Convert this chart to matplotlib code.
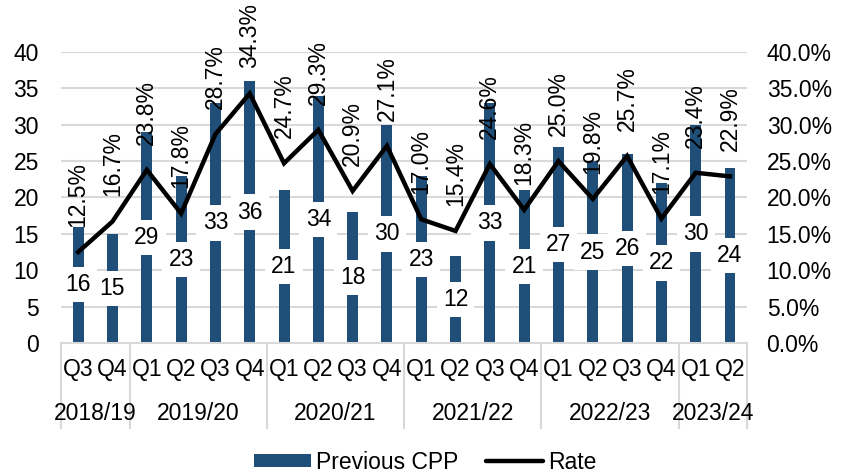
import matplotlib
matplotlib.use("Agg")
import matplotlib.pyplot as plt
from matplotlib.lines import Line2D
from matplotlib.patches import Patch
import numpy as np

plt.rcParams['font.family'] = ['Liberation Sans', 'DejaVu Sans']

quarters = ["Q3", "Q4",
            "Q1", "Q2", "Q3", "Q4",
            "Q1", "Q2", "Q3", "Q4",
            "Q1", "Q2", "Q3", "Q4",
            "Q1", "Q2", "Q3", "Q4",
            "Q1", "Q2"]
years = ["2018/19", "2019/20", "2020/21", "2021/22", "2022/23", "2023/24"]
year_sizes = [2, 4, 4, 4, 4, 2]
previous_cpp = [16, 15, 29, 23, 33, 36, 21, 34, 18, 30,
                23, 12, 33, 21, 27, 25, 26, 22, 30, 24]
rate = [12.5, 16.7, 23.8, 17.8, 28.7, 34.3, 24.7, 29.3, 20.9, 27.1,
        17.0, 15.4, 24.6, 18.3, 25.0, 19.8, 25.7, 17.1, 23.4, 22.9]

bar_color = "#1F4E79"
grid_color = "#D9D9D9"
fs = 16.5

fig = plt.figure(figsize=(8.5, 4.75), dpi=100)
ax = fig.add_axes([0.0718, 0.278, 0.879 - 0.0718, 0.8905 - 0.278])
ax2 = ax.twinx()

x = np.arange(len(quarters))
ax.bar(x, previous_cpp, width=0.32, color=bar_color, zorder=2)
ax.set_xlim(-0.5, len(quarters) - 0.5)
ax.set_ylim(0, 40)
ax.set_yticks(np.arange(0, 41, 5))
ax.yaxis.grid(True, color=grid_color, linewidth=1.5, zorder=0)
ax.set_axisbelow(True)
ax.tick_params(axis='y', length=0, labelsize=fs, pad=16)
ax.tick_params(axis='x', length=0, labelbottom=False)
for s in ["top", "left", "right"]:
    ax.spines[s].set_visible(False)
ax.spines["bottom"].set_color(grid_color)
ax.spines["bottom"].set_linewidth(1.5)

# bar value labels in white boxes at the middle of each bar
for xi, v in zip(x, previous_cpp):
    ax.text(xi, v / 2, f"{v}", ha="center", va="center", fontsize=fs,
            zorder=3,
            bbox=dict(facecolor="white", edgecolor="none", pad=4.5))

# rate line on the secondary axis
ax2.plot(x, np.array(rate) / 100, color="black", linewidth=3.2, zorder=4,
         solid_joinstyle="miter")
ax2.set_ylim(0, 0.4)
ax2.set_yticks(np.arange(0, 0.41, 0.05))
ax2.set_yticklabels([f"{t * 100:.1f}%" for t in np.arange(0, 0.41, 0.05)])
ax2.tick_params(axis='y', length=0, labelsize=fs, pad=14)
for s in ["top", "left", "right", "bottom"]:
    ax2.spines[s].set_visible(False)

for xi, r in zip(x, rate):
    ax2.annotate(f"{r:.1f}%", (xi, r / 100), xytext=(0, 18),
                 textcoords="offset points", rotation=90,
                 ha="center", va="bottom", fontsize=fs, zorder=5,
                 annotation_clip=False)

# two-level category axis
trans = ax.get_xaxis_transform()
for xi, q in zip(x, quarters):
    ax.text(xi, -0.09, q, transform=trans, ha="center", va="center",
            fontsize=fs, clip_on=False)

bounds = np.concatenate([[0], np.cumsum(year_sizes)]) - 0.5
for b in bounds:
    ax.plot([b, b], [0, -0.292], transform=trans, color=grid_color,
            linewidth=1.5, clip_on=False)
for i, yname in enumerate(years):
    c = (bounds[i] + bounds[i + 1]) / 2
    ax.text(c, -0.244, yname, transform=trans, ha="center", va="center",
            fontsize=fs, clip_on=False)

handles = [Patch(facecolor=bar_color, edgecolor="none"),
           Line2D([0], [0], color="black", linewidth=3.2,
                  solid_capstyle="round")]
fig.legend(handles, ["Previous CPP", "Rate"], loc="center",
           bbox_to_anchor=(0.5, 0.027), ncol=2, frameon=False,
           fontsize=fs, handlelength=2.5, handleheight=0.5,
           columnspacing=1.2, handletextpad=0.2, borderpad=0)

fig.savefig("out.png", dpi=100)
